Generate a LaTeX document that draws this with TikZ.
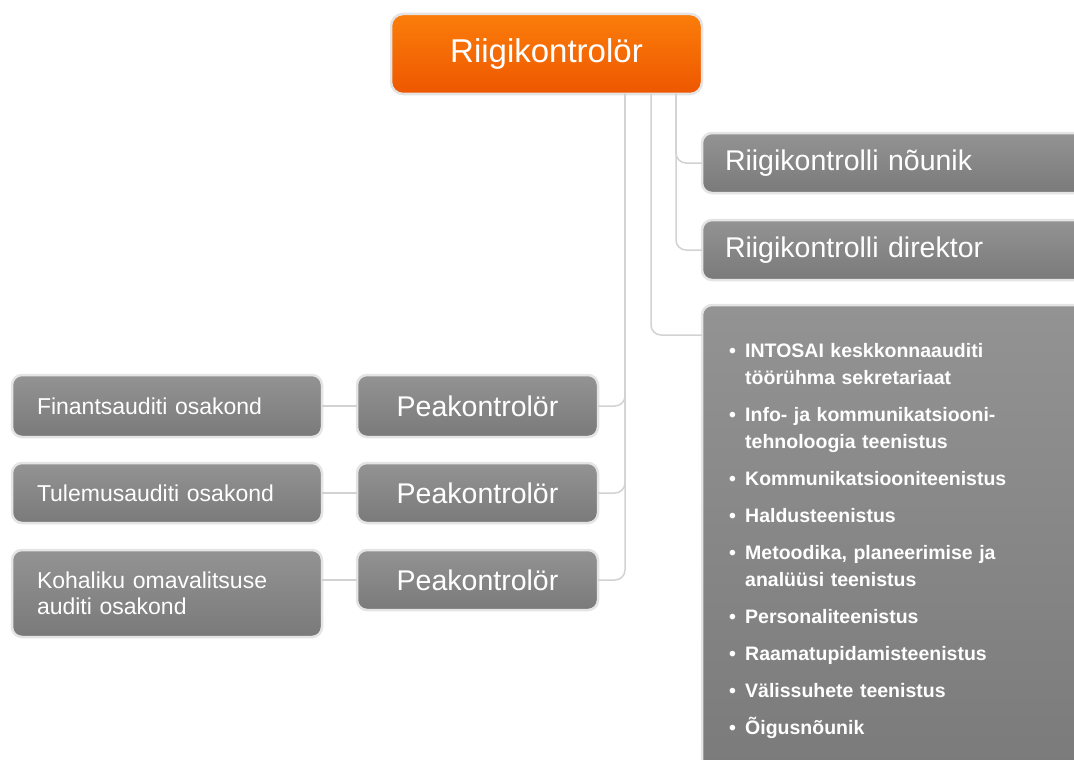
\documentclass[tikz,border=0pt]{standalone}
\usepackage{fontspec}
\setmainfont{Liberation Sans}
\definecolor{boxtop}{HTML}{939393}
\definecolor{boxbot}{HTML}{7A7A7A}
\definecolor{ortop}{HTML}{FB7D0A}
\definecolor{orbot}{HTML}{EE5700}
\definecolor{halo}{HTML}{E4E4E4}
\definecolor{connc}{HTML}{D2D2D2}
\newcommand{\bul}{\makebox[16pt][l]{\textbullet}}
\newcommand{\cont}{\hspace*{16pt}}
\begin{document}
\begin{tikzpicture}[x=1pt,y=-1pt,
  box/.style={rectangle, rounded corners=10pt, draw=halo, line width=2.5pt,
    top color=boxtop, bottom color=boxbot, text=white, inner sep=0pt, outer sep=0pt},
  orbox/.style={box, rounded corners=12pt, top color=ortop, bottom color=orbot},
  leftbox/.style={box, anchor=west, text width=260pt, inner xsep=25pt, align=left,
    font=\fontsize{23}{26}\selectfont},
  pkbox/.style={box, minimum width=241pt, minimum height=62pt,
    font=\fontsize{28.5}{32}\selectfont},
  rightbox/.style={box, anchor=west, text width=360pt, inner xsep=23pt, align=left,
    minimum height=60pt, font=\fontsize{28.5}{32}\selectfont},
  conn/.style={draw=connc, line width=1.5pt, rounded corners=10pt}
]
\path[use as bounding box] (0,0) rectangle (1074,760);
\clip (0,0) rectangle (1074,760);

% top node
\node[orbox, minimum width=311pt, minimum height=80pt,
  font=\fontsize{33}{38}\selectfont] (top) at (546.5,54) {Riigikontrolör};

% right column
\node[rightbox] (nounik) at (702,163) {Riigikontrolli nõunik};
\node[rightbox] (direktor) at (702,250) {Riigikontrolli direktor};
\node[box, anchor=north west, minimum width=400pt, minimum height=480pt] (listbox) at (702,305) {};
\node[anchor=base west, text width=330pt, align=left, inner sep=0pt, text=white,
  font=\fontsize{19.5}{27}\selectfont\bfseries] (listtext) at (729,357) {%
\setlength{\parindent}{0pt}\setlength{\parskip}{10pt}%
\bul INTOSAI keskkonnaauditi\\\cont töörühma sekretariaat\par
\bul Info- ja kommunikatsiooni-\\\cont tehnoloogia teenistus\par
\bul Kommunikatsiooniteenistus\par
\bul Haldusteenistus\par
\bul Metoodika, planeerimise ja\\\cont analüüsi teenistus\par
\bul Personaliteenistus\par
\bul Raamatupidamisteenistus\par
\bul Välissuhete teenistus\par
\bul Õigusnõunik};

% left columns
\node[leftbox, minimum height=62pt] (fin) at (12,406) {Finantsauditi osakond};
\node[leftbox, minimum height=60pt] (tul) at (12,493) {Tulemusauditi osakond};
\node[leftbox, minimum height=87pt] (koh) at (12,593.5) {Kohaliku omavalitsuse\\auditi osakond};

\node[pkbox] (pk1) at (477.5,406) {Peakontrolör};
\node[pkbox, minimum height=60pt] (pk2) at (477.5,493) {Peakontrolör};
\node[pkbox, minimum height=60pt] (pk3) at (477.5,580) {Peakontrolör};

% connectors
\draw[conn] ([xshift=129.5pt]top.south) |- (nounik.west);
\draw[conn] ([xshift=129.5pt]top.south) |- (direktor.west);
\draw[conn] ([xshift=104.5pt]top.south) |- ([yshift=-30pt]listbox.north west);
\draw[conn] ([xshift=78.5pt]top.south) |- (pk1.east);
\draw[conn] ([xshift=78.5pt]top.south) |- (pk2.east);
\draw[conn] ([xshift=78.5pt]top.south) |- (pk3.east);
\draw[conn] (fin.east) -- (pk1.west);
\draw[conn] (tul.east) -- (pk2.west);
\draw[conn] (pk3.west) -- (pk3.west -| koh.east);
\end{tikzpicture}
\end{document}
